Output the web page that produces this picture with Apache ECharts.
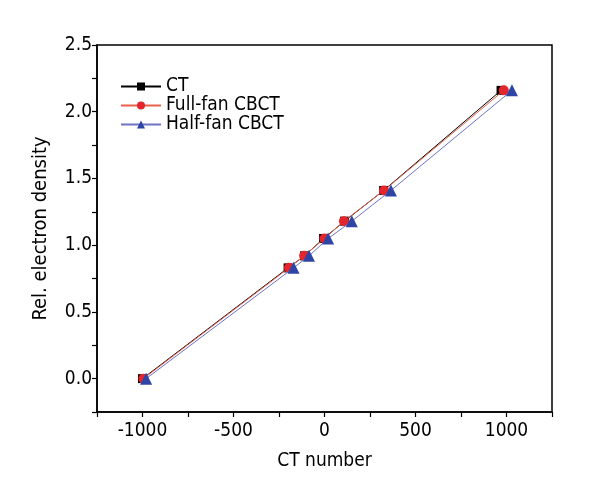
<!DOCTYPE html>
<html><head><meta charset="utf-8">
<script src="https://cdn.jsdelivr.net/npm/echarts@6/dist/echarts.min.js"></script>
<style>html,body{margin:0;padding:0;background:#fff}#c{width:600px;height:503px}</style>
</head><body><div id="c"></div>
<script>
const seriesNames = ['CT', 'Full-fan CBCT', 'Half-fan CBCT'];
const ctX = [-1000, -200, -110, -5, 110, 325, 970];
const ctY = [0, 0.83, 0.92, 1.05, 1.18, 1.41, 2.16];
const fullX = [-995, -195, -112, 0, 107, 327, 985];
const fullY = [0, 0.83, 0.92, 1.05, 1.18, 1.41, 2.16];
const halfX = [-980, -170, -85, 20, 150, 365, 1030];
const halfY = [0, 0.83, 0.92, 1.05, 1.18, 1.41, 2.16];
const xTickLabels = [-1000, -500, 0, 500, 1000];
const yTickLabels = ['0.0', '0.5', '1.0', '1.5', '2.0', '2.5'];

const FONT = "'DejaVu Sans Condensed', 'Liberation Sans Narrow', sans-serif";
const pairs = (xs, ys) => xs.map((x, i) => [x, ys[i]]);

const chart = echarts.init(document.getElementById('c'), null, {renderer: 'canvas'});
chart.setOption({
  animation: false,
  backgroundColor: '#fff',
  textStyle: {fontFamily: FONT},
  grid: {left: 97, right: 48, top: 45, bottom: 91, show: true, borderColor: '#000', borderWidth: 1.5, backgroundColor: 'transparent'},
  legend: {
    orient: 'vertical', left: 115, top: 72, itemGap: 0, itemWidth: 40, itemHeight: 10,
    textStyle: {fontFamily: FONT, fontSize: 19, color: '#000'},
    data: seriesNames
  },
  xAxis: {
    type: 'value', min: -1250, max: 1250, interval: 250,
    name: 'CT number', nameLocation: 'middle', nameGap: 40,
    nameTextStyle: {fontFamily: FONT, fontSize: 19, color: '#000'},
    axisLine: {onZero: false, lineStyle: {color: '#000', width: 1.5}},
    axisTick: {show: true, length: 5, lineStyle: {color: '#000', width: 1.2}},
    splitLine: {show: false},
    axisLabel: {
      fontFamily: FONT, fontSize: 19, color: '#000', margin: 10,
      formatter: v => xTickLabels.includes(v) ? String(v) : ''
    }
  },
  yAxis: {
    type: 'value', min: -0.25, max: 2.5, interval: 0.25,
    name: 'Rel. electron density', nameLocation: 'middle', nameGap: 46, nameRotate: 90,
    nameTextStyle: {fontFamily: FONT, fontSize: 20, color: '#000'},
    axisLine: {onZero: false, lineStyle: {color: '#000', width: 1.5}},
    axisTick: {show: true, length: 5, lineStyle: {color: '#000', width: 1.2}},
    splitLine: {show: false},
    axisLabel: {
      fontFamily: FONT, fontSize: 19, color: '#000', margin: 5,
      formatter: v => {
        const s = v.toFixed(1);
        return (Math.abs(v * 2 - Math.round(v * 2)) < 1e-6 && yTickLabels.includes(s)) ? s : '';
      }
    }
  },
  series: [
    {name: seriesNames[0], type: 'line', data: pairs(ctX, ctY), symbol: 'rect', symbolSize: 9,
     lineStyle: {color: '#000', width: 1}, itemStyle: {color: '#000'}, z: 2},
    {name: seriesNames[1], type: 'line', data: pairs(fullX, fullY), symbol: 'circle', symbolSize: 10,
     lineStyle: {color: '#e8604a', width: 1}, itemStyle: {color: '#e3262b'}, z: 3},
    {name: seriesNames[2], type: 'line', data: pairs(halfX, halfY), symbol: 'triangle', symbolSize: 12,
     lineStyle: {color: '#6d74c4', width: 1}, itemStyle: {color: '#2e45a6'}, z: 4}
  ]
});
</script></body></html>
